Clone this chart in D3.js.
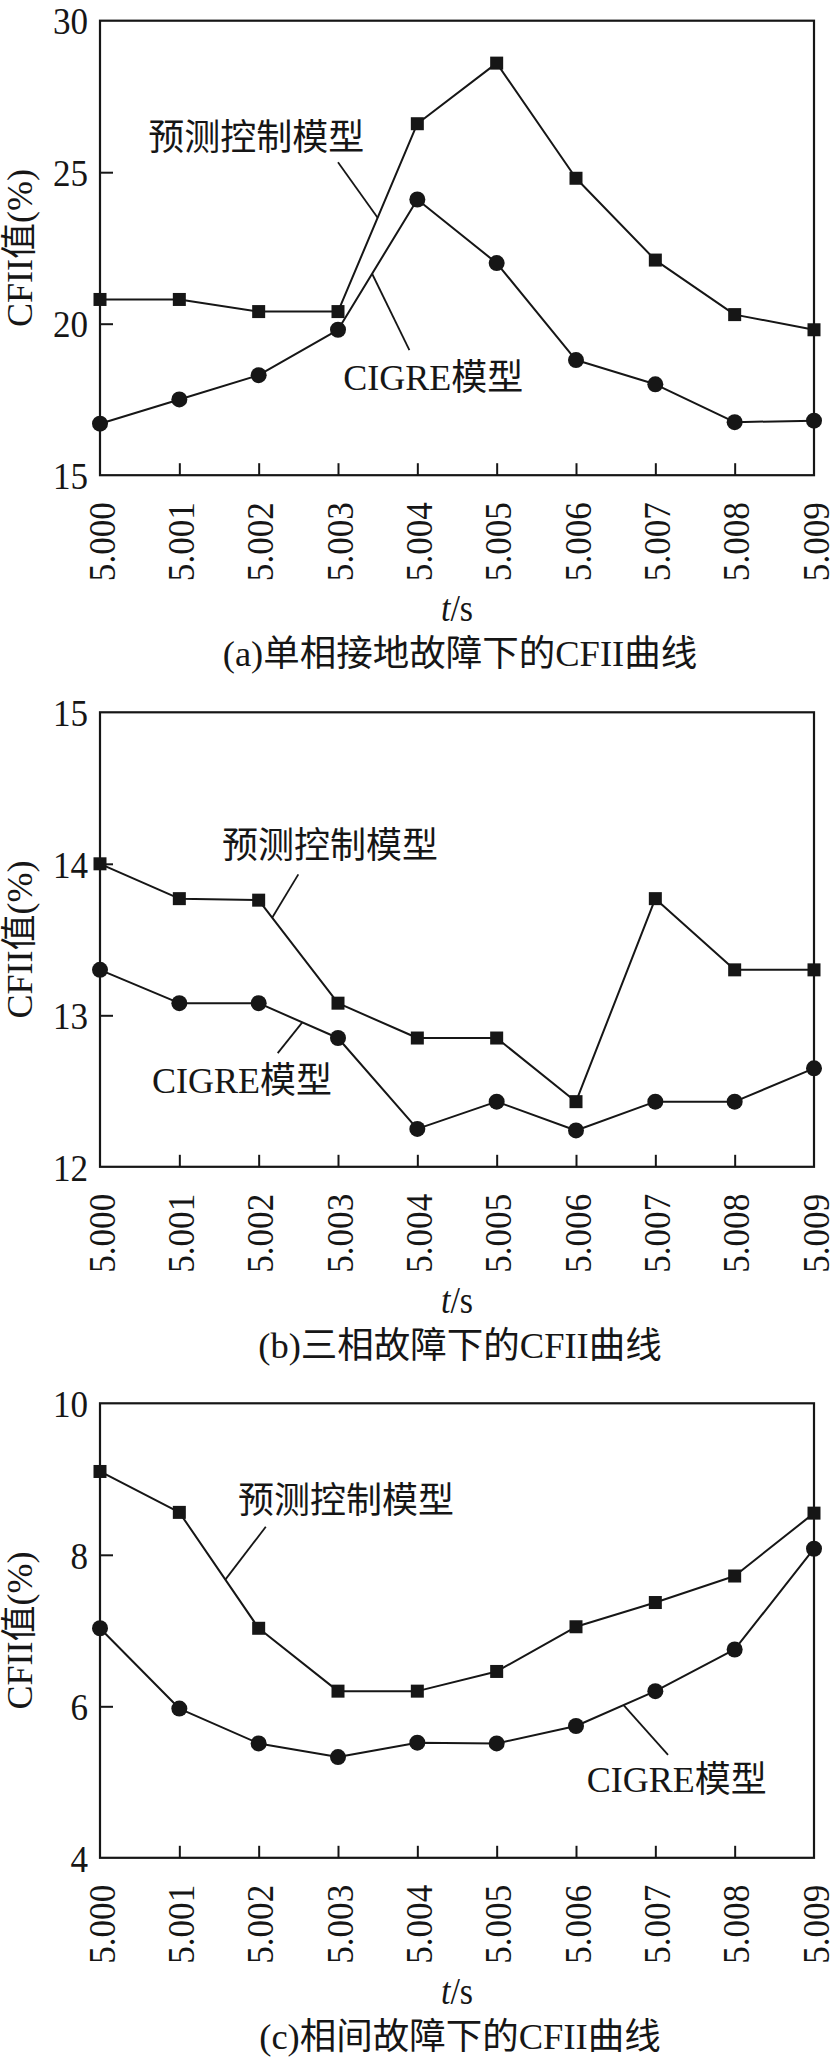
<!DOCTYPE html>
<html><head><meta charset="utf-8">
<script src="https://cdn.jsdelivr.net/npm/d3@7"></script>
<style>body{margin:0;background:#fff} svg{display:block}</style>
</head><body><svg id="c" width="838" height="2064"></svg>
<script>
// ---------------- data ----------------
const times = ["5.000","5.001","5.002","5.003","5.004","5.005","5.006","5.007","5.008","5.009"];
const seriesNames = ["预测控制模型", "CIGRE模型"];
const yTitle = "CFII值(%)";

// (a) single-phase-to-ground fault
const predA  = [20.8, 20.8, 20.4, 20.4, 26.6, 28.6, 24.8, 22.1, 20.3, 19.8];
const cigreA = [16.7, 17.5, 18.3, 19.8, 24.1, 22.0, 18.8, 18.0, 16.75, 16.8];
const yTicksA = [15, 20, 25, 30];
// (b) three-phase fault
const predB  = [14.0, 13.77, 13.76, 13.08, 12.85, 12.85, 12.43, 13.77, 13.3, 13.3];
const cigreB = [13.3, 13.08, 13.08, 12.85, 12.25, 12.43, 12.24, 12.43, 12.43, 12.65];
const yTicksB = [12, 13, 14, 15];
// (c) phase-to-phase fault
const predC  = [9.1, 8.56, 7.03, 6.2, 6.2, 6.46, 7.05, 7.37, 7.72, 8.55];
const cigreC = [7.03, 5.97, 5.51, 5.33, 5.52, 5.51, 5.74, 6.2, 6.75, 8.08];
const yTicksC = [4, 6, 8, 10];

const captions = ["(a)单相接地故障下的CFII曲线", "(b)三相故障下的CFII曲线", "(c)相间故障下的CFII曲线"];

// annotation placement in data units: label [index, value], leader start [index,value], leader end on segment seg at fraction t
const annA = [{s:0, label:[1.97,25.73], from:[3.0,25.33], seg:3, t:0.5},
              {s:1, label:[4.2,17.81],  from:[3.9,19.13], seg:3, t:0.43}];
const annB = [{s:0, label:[2.9,14.04],  from:[2.5,13.93], seg:2, t:0.17},
              {s:1, label:[1.79,12.49], from:[2.24,12.75], seg:2, t:0.55}];
const annC = [{s:0, label:[3.1,8.55],   from:[2.09,8.37], seg:1, t:0.58},
              {s:1, label:[7.27,4.87],  from:[7.16,5.36], seg:6, t:0.6}];

// ---------------- layout ----------------
const W = 838;
const left = 100, right = 814, plotH = 454.5;
const tops = [20.7, 712.3, 1403.3];
const FONT = "'Liberation Serif','Times New Roman','Noto Sans CJK SC',serif";
const INK = "#161616";

const panels = [
  {pred: predA, cigre: cigreA, ticks: yTicksA, ann: annA, cap: captions[0]},
  {pred: predB, cigre: cigreB, ticks: yTicksB, ann: annB, cap: captions[1]},
  {pred: predC, cigre: cigreC, ticks: yTicksC, ann: annC, cap: captions[2]},
];

const svg = d3.select("#c");
svg.append("rect").attr("width", W).attr("height", 2064).attr("fill", "#fff");

panels.forEach((p, pi) => {
  const top = tops[pi], bottom = top + plotH;
  const g = svg.append("g").attr("font-family", FONT).attr("fill", INK);
  const x = d3.scalePoint().domain(times).range([left, right]).padding(0);
  const y = d3.scaleLinear().domain([p.ticks[0], p.ticks[p.ticks.length - 1]]).range([bottom, top]);
  const xi = d3.scaleLinear().domain([0, times.length - 1]).range([left, right]);

  // frame
  g.append("rect").attr("x", left).attr("y", top).attr("width", right - left).attr("height", plotH)
    .attr("fill", "none").attr("stroke", INK).attr("stroke-width", 2.2);

  // y ticks (inward) & labels
  const yAxis = d3.axisLeft(y).tickValues(p.ticks).tickSize(-13).tickPadding(12).tickFormat(d3.format("d"));
  const ya = g.append("g").attr("transform", `translate(${left},0)`).call(yAxis);
  ya.select(".domain").remove();
  ya.selectAll(".tick line").attr("stroke", INK).attr("stroke-width", 2)
    .attr("display", (d, i) => (i === 0 || i === p.ticks.length - 1) ? "none" : null);
  ya.selectAll(".tick text").attr("font-size", 39).attr("fill", INK).attr("font-family", FONT)
    .attr("x", 0).attr("dy", "0.34em")
    .attr("transform", "translate(-12,0) scale(0.9,1)");

  // x ticks (inward) & rotated labels
  const xAxis = d3.axisBottom(x).tickSize(-12).tickPadding(0);
  const xa = g.append("g").attr("transform", `translate(0,${bottom})`).call(xAxis);
  xa.select(".domain").remove();
  xa.selectAll(".tick line").attr("stroke", INK).attr("stroke-width", 2)
    .attr("display", (d, i) => (i === 0 || i === times.length - 1) ? "none" : null);
  xa.selectAll(".tick text").attr("font-size", 39).attr("fill", INK).attr("font-family", FONT)
    .attr("text-anchor", "end").attr("y", 0).attr("dy", "0.34em")
    .attr("transform", "translate(1,27) rotate(-90) scale(0.9,1)");

  // axis titles
  const xt = g.append("text").attr("transform", `translate(${(left + right) / 2},${bottom + 146}) scale(0.92,1)`)
    .attr("text-anchor", "middle").attr("font-size", 37);
  xt.append("tspan").attr("font-style", "italic").text("t");
  xt.append("tspan").text("/s");

  g.append("text").attr("transform", `translate(32,${(top + bottom) / 2}) rotate(-90)`)
    .attr("text-anchor", "middle").attr("font-size", 36).text(yTitle);

  // caption
  g.append("text").attr("x", (left + right) / 2 + 3).attr("y", bottom + 191)
    .attr("text-anchor", "middle").attr("font-size", 36.5).text(p.cap);

  // series lines
  const line = d3.line().x((d, i) => x(times[i])).y(d => y(d));
  [p.pred, p.cigre].forEach(s => {
    g.append("path").attr("d", line(s)).attr("fill", "none").attr("stroke", INK)
      .attr("stroke-width", 2).attr("stroke-linejoin", "round");
  });
  // markers
  const sq = 13;
  g.selectAll(null).data(p.pred).enter().append("rect")
    .attr("x", (d, i) => x(times[i]) - sq / 2).attr("y", d => y(d) - sq / 2)
    .attr("width", sq).attr("height", sq).attr("fill", INK);
  g.selectAll(null).data(p.cigre).enter().append("circle")
    .attr("cx", (d, i) => x(times[i])).attr("cy", d => y(d)).attr("r", 8).attr("fill", INK);

  // annotations
  p.ann.forEach(a => {
    const s = a.s === 0 ? p.pred : p.cigre;
    const ei = a.seg + a.t;
    const ev = s[a.seg] + (s[a.seg + 1] - s[a.seg]) * a.t;
    g.append("line").attr("x1", xi(a.from[0])).attr("y1", y(a.from[1]))
      .attr("x2", xi(ei)).attr("y2", y(ev)).attr("stroke", INK).attr("stroke-width", 1.8);
    g.append("text").attr("x", xi(a.label[0])).attr("y", y(a.label[1]))
      .attr("text-anchor", "middle").attr("font-size", 36).text(seriesNames[a.s]);
  });
});
</script></body></html>
